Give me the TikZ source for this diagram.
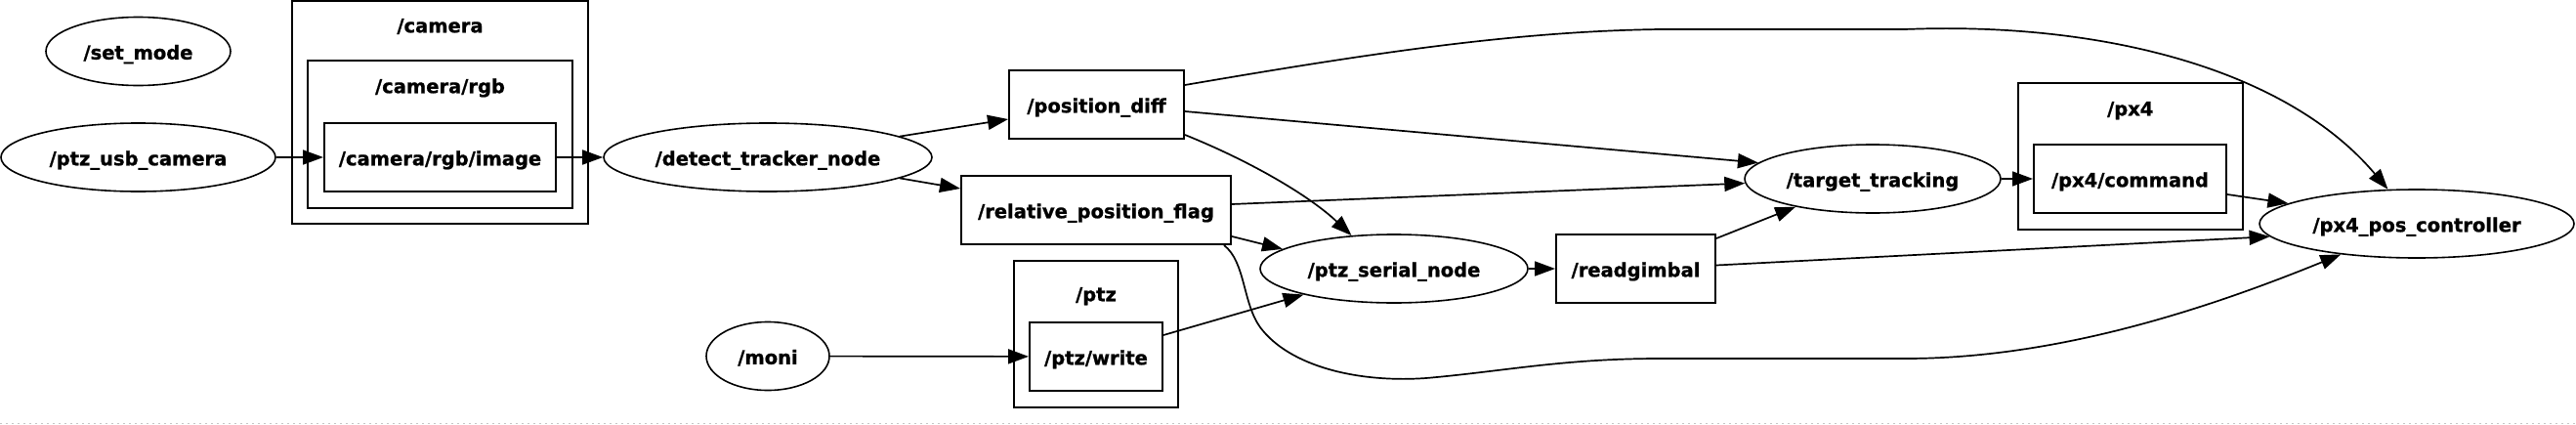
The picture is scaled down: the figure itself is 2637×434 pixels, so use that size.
\documentclass[tikz,border=0pt]{standalone}
\usepackage{fontspec}
\setmainfont{DejaVu Sans}[BoldFeatures={FakeBold=1}]
\usetikzlibrary{arrows.meta,shapes.geometric}
\begin{document}
\begin{tikzpicture}[x=1pt,y=-1pt,
  lbl/.style={font=\fontsize{19.5}{23}\selectfont\bfseries, text height=20.5pt, text depth=4pt, inner sep=0pt},
  rosnode/.style={lbl, draw, ellipse, line width=1.6pt, minimum height=70pt},
  topic/.style={lbl, draw, rectangle, line width=2pt, minimum height=70pt},
  cluster/.style={draw, rectangle, line width=2pt, inner sep=0pt},
  edge/.style={line width=1.7pt, -{Triangle[length=21pt,width=15pt]}},
]
\useasboundingbox (0,0) rectangle (2637,434);

% clusters
\node[cluster, minimum width=303pt, minimum height=228pt] (camcl) at (450.5,115) {};
\node[lbl] (camlbl) at (450.5,25) {/camera};
\node[cluster, minimum width=271pt, minimum height=151pt] (rgbcl) at (450.5,137.5) {};
\node[lbl] (rgblbl) at (450.5,87) {/camera/rgb};
\node[cluster, minimum width=168pt, minimum height=150pt] (ptzcl) at (1122,342) {};
\node[lbl] (ptzlbl) at (1122,300) {/ptz};
\node[cluster, minimum width=230.5pt, minimum height=150pt] (px4cl) at (2180.75,160) {};
\node[lbl] (px4lbl) at (2180.75,110) {/px4};

% nodes
\node[rosnode, minimum width=189pt] (setmode) at (141.5,52.5) {/set\_mode};
\node[rosnode, minimum width=281pt] (ptzusb) at (141.5,161) {/ptz\_usb\_camera};
\node[topic, minimum width=237pt] (image) at (450.5,161) {/camera/rgb/image};
\node[rosnode, minimum width=336pt] (detect) at (786,161) {/detect\_tracker\_node};
\node[topic, minimum width=179pt] (posdiff) at (1122.5,107) {/position\_diff};
\node[topic, minimum width=276pt] (relflag) at (1122,215) {/relative\_position\_flag};
\node[topic, minimum width=136pt] (ptzwrite) at (1122,365) {/ptz/write};
\node[rosnode, minimum width=126pt] (moni) at (786,364.5) {/moni};
\node[rosnode, minimum width=274pt] (serial) at (1427,275) {/ptz\_serial\_node};
\node[topic, minimum width=163pt] (readgimbal) at (1674.5,275) {/readgimbal};
\node[rosnode, minimum width=262pt] (tracking) at (1917,183) {/target\_tracking};
\node[topic, minimum width=197pt] (command) at (2180.5,183) {/px4/command};
\node[rosnode, minimum width=322pt] (posctrl) at (2474,229) {/px4\_pos\_controller};

% edges
\draw[edge] (ptzusb) -- (image);
\draw[edge] (image) -- (detect);
\draw[edge] (moni) -- (ptzwrite);
\draw[edge] (detect.9) -- ([yshift=-15pt]posdiff.west);
\draw[edge] (detect.-9) -- ([yshift=22pt]relflag.west);
\draw[edge] ([yshift=20pt]posdiff.east) .. controls (1400,55) and (1550,32) .. (1700,30)
  -- (1950,30) .. controls (2150,22) and (2340,70) .. (posctrl.130);
\draw[edge] ([yshift=-7pt]posdiff.east) -- (tracking.172);
\draw[edge] ([yshift=-31pt]posdiff.east) .. controls (1280,165) and (1340,200) .. (serial.142);
\draw[edge] ([yshift=6pt]relflag.east) -- (tracking.182);
\draw[edge] ([yshift=-27pt]relflag.east) -- (serial.170);
\draw[edge] ([xshift=-8pt]relflag.south east) .. controls (1275,268) and (1272,310) .. (1290,335)
  .. controls (1320,375) and (1390,392) .. (1460,387)
  .. controls (1540,380) and (1600,367) .. (1700,367)
  -- (1950,367) .. controls (2100,367) and (2250,320) .. (posctrl.202);
\draw[edge] ([yshift=22pt]ptzwrite.east) -- (serial.196);
\draw[edge] (serial) -- (readgimbal);
\draw[edge] ([yshift=31pt]readgimbal.east) -- (tracking.200);
\draw[edge] ([yshift=3.5pt]readgimbal.east) -- (posctrl.185);
\draw[edge] (tracking) -- (command);
\draw[edge] ([yshift=-16pt]command.east) -- (posctrl.171);

% faint dotted line at the bottom edge
\draw[gray!45, line width=1pt, dash pattern=on 1.5pt off 4.5pt] (0,433) -- (2637,433);
\end{tikzpicture}
\end{document}
